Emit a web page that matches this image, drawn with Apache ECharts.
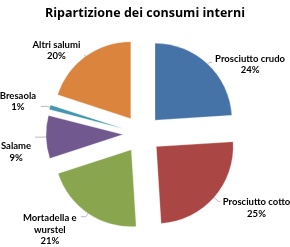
<!DOCTYPE html>
<html><head><meta charset="utf-8">
<script src="https://cdn.jsdelivr.net/npm/echarts@6/dist/echarts.min.js"></script>
<style>html,body{margin:0;padding:0;background:#fff}#c{width:290px;height:247px}</style>
</head><body><div id="c"></div>
<script>
const categories = ['Prosciutto crudo', 'Prosciutto cotto', 'Mortadella e\nwurstel', 'Salame', 'Bresaola', 'Altri salumi'];
const values = [24, 25, 21, 9, 1, 20];
const colors = ['#4572A7', '#AA4643', '#89A54E', '#71588F', '#4198AF', '#DB843D'];
const titleText = 'Ripartizione dei consumi interni';

// label-line geometry per slice (layout only): [length, length2, boxWidth, padTop, padBottom]
const labelGeom = [
  [2, 3, 66, 4, 0],
  [6, 2, 62, 13, 0],
  [4, 5, 52, 26, 0],
  [4, 7, 28, 30, 0],
  [3, 6, 36, 0, 10],
  [2, 0, 46, 0, 9]
];

const chart = echarts.init(document.getElementById('c'), null, {renderer: 'canvas'});
chart.setOption({
  animation: false,
  title: {
    text: titleText, left: 'center', top: 2,
    textStyle: {fontFamily: 'Open Sans', fontWeight: 'bold', fontSize: 12.5, color: '#000'}
  },
  series: [{
    type: 'pie',
    center: [142, 134],
    radius: 77,
    startAngle: 90,
    clockwise: true,
    selectedMode: 'multiple',
    selectedOffset: 19,
    avoidLabelOverlap: false,
    itemStyle: {borderColor: 'rgba(255,255,255,0.6)', borderWidth: 0.5},
    labelLine: {show: true, lineStyle: {color: '#aaa', width: 0.8}},
    emphasis: {disabled: true},
    data: categories.map((c, i) => {
      const g = labelGeom[i];
      return {
        name: c, value: values[i], selected: true,
        itemStyle: {color: colors[i]},
        labelLine: {length: g[0], length2: g[1]},
        label: {
          show: true, position: 'outside', overflow: 'none',
          distanceToLabelLine: 5,
          padding: [g[3], 0, g[4], 0],
          formatter: p => p.name.split('\n').concat([p.percent.toFixed(0) + '%']).map(s => '{t|' + s + '}').join('\n'),
          rich: {t: {width: g[2], align: 'center', fontFamily: 'Lato', fontWeight: 'bold', fontSize: 9.5, lineHeight: 11.5, color: '#000'}}
        }
      };
    })
  }]
});
</script></body></html>
